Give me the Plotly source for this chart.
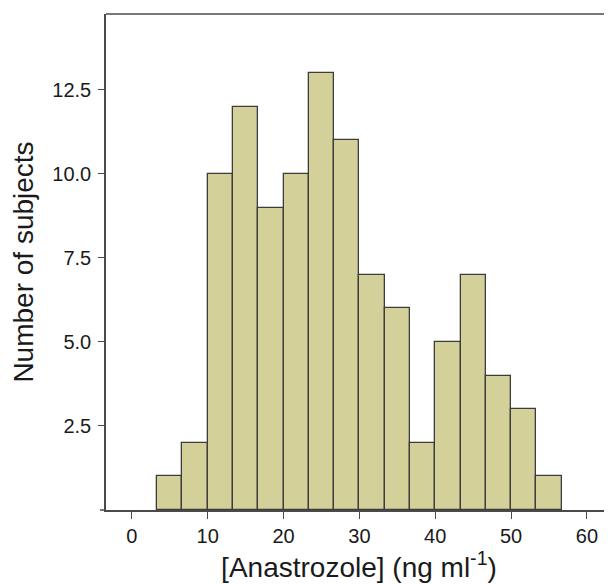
"""Histogram of anastrozole concentrations."""

import plotly.graph_objects as go

BIN_CENTERS = [5.0, 8.333, 11.667, 15.0, 18.333, 21.667, 25.0, 28.333,
               31.667, 35.0, 38.333, 41.667, 45.0, 48.333, 51.667, 55.0]
BIN_WIDTH = 10 / 3
COUNTS = [1, 2, 10, 12, 9, 10, 13, 11, 7, 6, 2, 5, 7, 4, 3, 1]
X_TICKS = [0, 10, 20, 30, 40, 50, 60]
Y_TICKS = [2.5, 5.0, 7.5, 10.0, 12.5]

FONT = "Liberation Sans, Arial, sans-serif"
LINE = "#4a4a4a"
TICK_FONT = {"family": FONT, "size": 20, "color": "#1a1a1a"}

fig = go.Figure()
fig.add_trace(
    go.Bar(
        x=BIN_CENTERS,
        y=COUNTS,
        width=BIN_WIDTH,
        marker={"color": "#d4d09a", "line": {"color": "#3c3c3c", "width": 1.3}},
        showlegend=False,
    )
)

# the page body adds an 8px offset, so the figure is 8px smaller
fig.update_layout(
    width=604,
    height=576,
    margin={"l": 98, "r": 0, "t": 6, "b": 74},
    plot_bgcolor="white",
    paper_bgcolor="white",
    font={"family": FONT, "size": 20, "color": "#1a1a1a"},
    bargap=0,
    shapes=[
        # top frame line
        {"type": "line", "xref": "paper", "yref": "paper", "x0": 0, "x1": 1,
         "y0": 1, "y1": 1, "line": {"color": LINE, "width": 1.5}},
        # small stub of the x axis left of the y axis
        {"type": "line", "xref": "paper", "yref": "paper", "x0": -0.012, "x1": 0,
         "y0": 0, "y1": 0, "line": {"color": LINE, "width": 1.5}},
    ],
)
fig.update_xaxes(
    range=[-3.4, 63.3],
    tickvals=X_TICKS,
    tickfont=TICK_FONT,
    ticks="outside",
    ticklen=7,
    tickcolor=LINE,
    showline=True,
    linecolor=LINE,
    linewidth=1.5,
    showgrid=False,
    zeroline=False,
    title={"text": "[Anastrozole] (ng ml<sup>-1</sup>)", "font": {"size": 28}, "standoff": 5},
)
fig.update_yaxes(
    range=[0, 14.76],
    tickvals=Y_TICKS,
    tickformat=".1f",
    tickfont=TICK_FONT,
    ticklabelstandoff=3,
    ticks="outside",
    ticklen=6,
    tickcolor=LINE,
    showline=True,
    linecolor=LINE,
    linewidth=1.5,
    showgrid=False,
    zeroline=False,
    title={"text": "Number of subjects", "font": {"size": 28}, "standoff": 15},
)

fig.write_html("out.html")
